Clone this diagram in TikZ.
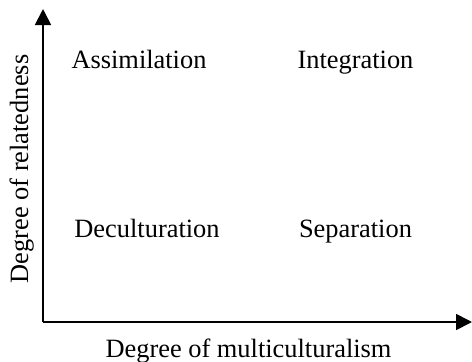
\documentclass[tikz,border=0pt]{standalone}
\usepackage{fontspec}
\setmainfont{Liberation Serif}
\usetikzlibrary{arrows.meta}
\begin{document}
\begin{tikzpicture}[x=1pt,y=-1pt,
  lbl/.style={font=\fontsize{26.4}{30}\selectfont, inner sep=0pt, anchor=base},
  axis/.style={line width=1.8pt, -{Triangle[length=16pt,width=16pt]}}]
\useasboundingbox (0,0) rectangle (472,362);
\coordinate (o) at (43,322);
\coordinate (ytip) at (43,9);
\coordinate (xtip) at (472,322);
\draw[axis] (o) -- (ytip);
\draw[axis] (o) -- (xtip);
\node[lbl] (assim) at (139,68) {Assimilation};
\node[lbl] (integ) at (355.5,68) {Integration};
\node[lbl] (decul) at (147,237) {Deculturation};
\node[lbl] (separ) at (355.5,237) {Separation};
\node[lbl] (xlab) at (248.5,357) {Degree of multiculturalism};
\node[lbl, rotate=90] (ylab) at (28,169) {Degree of relatedness};
\end{tikzpicture}
\end{document}
